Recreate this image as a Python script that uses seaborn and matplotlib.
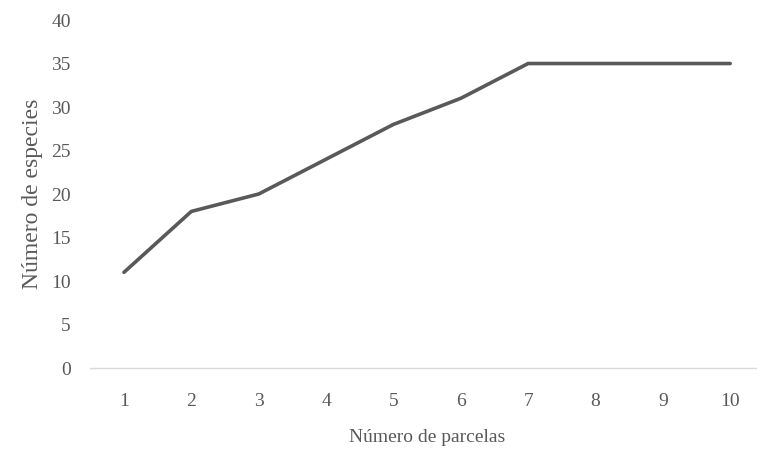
import matplotlib
matplotlib.use("Agg")
import matplotlib.pyplot as plt
import seaborn as sns
import pandas as pd

# Species accumulation by number of plots
parcelas = [1, 2, 3, 4, 5, 6, 7, 8, 9, 10]
especies = [11, 18, 20, 24, 28, 31, 35, 35, 35, 35]
y_ticks = [0, 5, 10, 15, 20, 25, 30, 35, 40]

sns.set_theme(style="white")
plt.rcParams["font.family"] = ["Liberation Serif", "DejaVu Serif"]

text_color = "#595959"

df = pd.DataFrame({"parcelas": parcelas, "especies": especies})

fig = plt.figure(figsize=(7.57, 4.5), dpi=100)
ax = fig.add_axes([0.1193, 0.1822, 0.8898, 0.7733])

sns.lineplot(data=df, x="parcelas", y="especies", ax=ax,
             color="#595959", linewidth=2.6, solid_joinstyle="miter")

ax.set_xlim(0.5, 10.5)
ax.set_ylim(0, 40)
ax.set_xticks(parcelas)
ax.set_xticklabels([str(p) for p in parcelas])
ax.set_yticks(y_ticks)
ax.set_yticklabels([str(t) for t in y_ticks])

for side in ("top", "right", "left"):
    ax.spines[side].set_visible(False)
ax.spines["bottom"].set_color("#d9d9d9")
ax.spines["bottom"].set_linewidth(1.0)

ax.tick_params(axis="both", length=0, labelsize=14, labelcolor=text_color)
ax.tick_params(axis="x", pad=18)
ax.tick_params(axis="y", pad=14)

ax.set_xlabel("Número de parcelas", fontsize=14, color=text_color, labelpad=14)
ax.set_ylabel("Número de especies", fontsize=17, color=text_color, labelpad=6)
ax.grid(False)

fig.savefig("out.png", dpi=100)
